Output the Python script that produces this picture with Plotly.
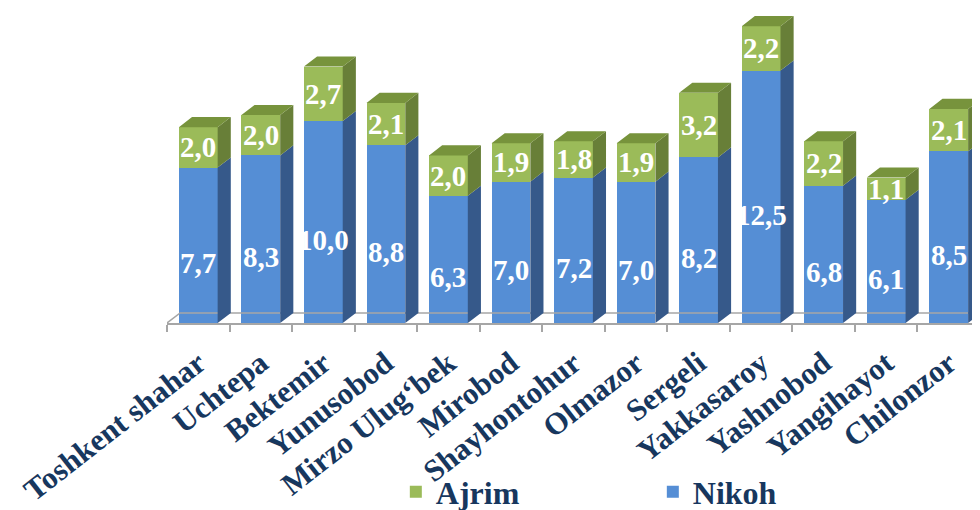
import plotly.graph_objects as go

categories = ["Toshkent shahar", "Uchtepa", "Bektemir", "Yunusobod", "Mirzo Ulug‘bek",
              "Mirobod", "Shayhontohur", "Olmazor", "Sergeli", "Yakkasaroy",
              "Yashnobod", "Yangihayot", "Chilonzor"]
nikoh = [7.7, 8.3, 10.0, 8.8, 6.3, 7.0, 7.2, 7.0, 8.2, 12.5, 6.8, 6.1, 8.5]
ajrim = [2.0, 2.0, 2.7, 2.1, 2.0, 1.9, 1.8, 1.9, 3.2, 2.2, 2.2, 1.1, 2.1]

# style constants
BLUE, BLUE_SIDE = "#558ED5", "#36598A"
GREEN, GREEN_SIDE, GREEN_TOP = "#9BBB59", "#687F38", "#77933C"
NAVY = "#17375E"
FONT = "Liberation Serif"
BW = 0.62          # bar width (category units)
DX, DY = 0.21, 0.5  # 3D depth offset (x units, y units)

xs = list(range(len(categories)))

fig = go.Figure()
fig.add_trace(go.Bar(x=xs, y=nikoh, name="Nikoh", marker=dict(color=BLUE, line=dict(width=0)),
                     width=BW, hoverinfo="skip"))
fig.add_trace(go.Bar(x=xs, y=ajrim, name="Ajrim", marker=dict(color=GREEN, line=dict(width=0)),
                     width=BW, hoverinfo="skip"))

def poly_trace(polys, color):
    px, py = [], []
    for p in polys:
        for (a, b) in p + [p[0]]:
            px.append(a); py.append(b)
        px.append(None); py.append(None)
    return go.Scatter(x=px, y=py, mode="lines", fill="toself", fillcolor=color,
                      line=dict(width=0, color=color), showlegend=False, hoverinfo="skip")

blue_side, green_side, green_top = [], [], []
for i, (n, a) in enumerate(zip(nikoh, ajrim)):
    x0, x1 = i - BW / 2, i + BW / 2
    blue_side.append([(x1, 0), (x1 + DX, DY), (x1 + DX, n + DY), (x1, n)])
    green_side.append([(x1, n), (x1 + DX, n + DY), (x1 + DX, n + a + DY), (x1, n + a)])
    t = n + a
    green_top.append([(x0, t), (x1, t), (x1 + DX, t + DY), (x0 + DX, t + DY)])

# floor back edge
nc = len(categories)
fig.add_trace(go.Scatter(x=[-0.5, -0.5 + DX, nc - 0.5 + DX], y=[0, DY, DY], mode="lines",
                         line=dict(color="#A6A6A6", width=1.5), showlegend=False, hoverinfo="skip"))
fig.add_trace(poly_trace(blue_side, BLUE_SIDE))
fig.add_trace(poly_trace(green_side, GREEN_SIDE))
fig.add_trace(poly_trace(green_top, GREEN_TOP))

def fmt(v):
    return f"{v:.1f}".replace(".", ",")

annotations = []
for i, (n, a) in enumerate(zip(nikoh, ajrim)):
    annotations.append(dict(x=i, y=n / 2, text=fmt(n), showarrow=False, yshift=-18,
                            font=dict(family=FONT, size=29, color="white", weight="bold")))
    annotations.append(dict(x=i, y=n + a / 2, text=fmt(a), showarrow=False,
                            font=dict(family=FONT, size=29, color="white", weight="bold")))

fig.update_layout(
    barmode="stack",
    width=972, height=502,
    margin=dict(l=159, r=0, t=0, b=187, autoexpand=False),
    plot_bgcolor="white", paper_bgcolor="white",
    annotations=annotations,
    showlegend=True,
    legend=dict(orientation="h", traceorder="reversed", xref="container", yref="container",
                x=0.399, xanchor="left", y=0.036, yanchor="middle",
                bgcolor="rgba(0,0,0,0)",
                entrywidth=212, entrywidthmode="pixels",
                font=dict(family=FONT, size=32, color=NAVY, weight="bold")),
    xaxis=dict(range=[-0.5, nc - 0.5], tickmode="array", tickvals=xs, ticktext=categories,
               tickangle=-38, ticks="", showgrid=False, zeroline=False, automargin=False,
               showline=True, linecolor="#A6A6A6", linewidth=1.5,
               ticklabelstandoff=8,
               tickfont=dict(family=FONT, size=31, color=NAVY, weight="bold"),
               minor=dict(tickmode="linear", tick0=-0.5, dtick=1, ticks="outside",
                          ticklen=7, tickcolor="#A6A6A6", tickwidth=1.5, showgrid=False)),
    yaxis=dict(range=[0, 15.6], visible=False, showgrid=False, zeroline=False, automargin=False),
)

fig.write_html("out.html")
